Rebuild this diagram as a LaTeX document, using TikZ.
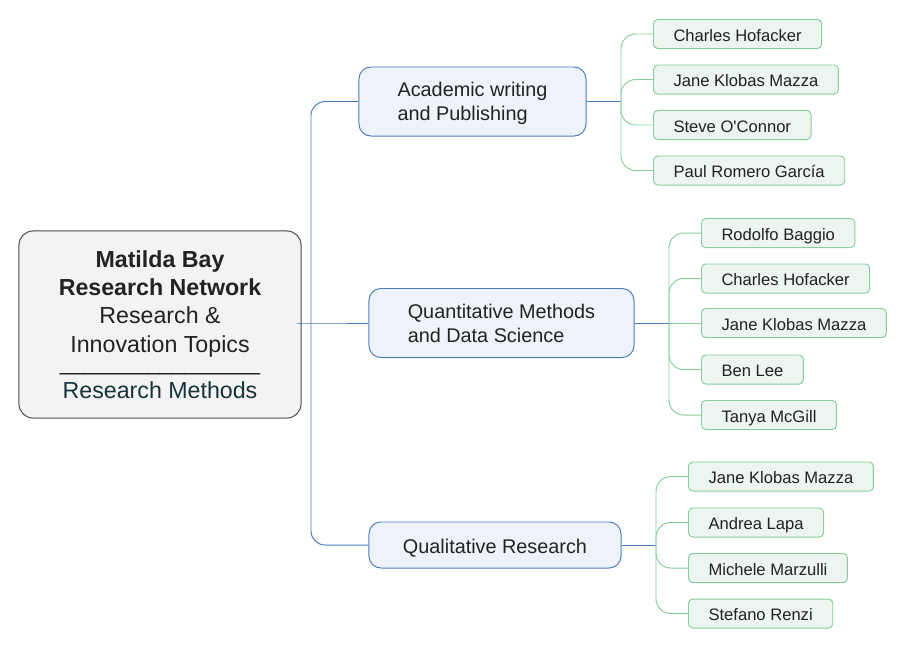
\documentclass[tikz,border=0pt]{standalone}
\usepackage{fontspec}
\setmainfont{Liberation Sans}
\definecolor{ink}{HTML}{222222}
\definecolor{slate}{HTML}{17333A}
\definecolor{rootfill}{HTML}{F3F3F3}
\definecolor{rootline}{HTML}{4A4A4A}
\definecolor{topicfill}{HTML}{EEF3FA}
\definecolor{topicline}{HTML}{4A7DC0}
\definecolor{leaffill}{HTML}{ECF5EF}
\definecolor{leafline}{HTML}{86CF9C}

\begin{document}
\begin{tikzpicture}[x=0.025cm, y=-0.025cm, text=ink,
    core/.style={draw=rootline, fill=rootfill, line width=0.7pt, rounded corners=10pt,
      align=center, minimum width=7.05cm, minimum height=4.675cm,
      font=\fontsize{16.5}{20.2}\selectfont},
    topic/.style={draw=topicline, fill=topicfill, line width=0.7pt, rounded corners=8.5pt,
      align=left, text depth=-1pt, font=\fontsize{14.1}{17}\selectfont},
    leaf/.style={draw=leafline, fill=leaffill, line width=0.7pt, rounded corners=3pt,
      anchor=west, inner xsep=0.5cm, inner ysep=0pt, minimum height=0.725cm,
      text height=1em, text depth=0pt, font=\fontsize{11.8}{14}\selectfont},
    toplink/.style={draw=topicline, line width=0.7pt, rounded corners=10pt},
    leaflink/.style={draw=leafline, line width=0.7pt, rounded corners=10.5pt}]

    \useasboundingbox (0,0) rectangle (908,647);

    % centre
    \node[core] (core) at (160,324.5) {\textbf{Matilda Bay}\\\textbf{Research Network}\\Research \&\\Innovation Topics\\[-7.5pt]%
      {\fontsize{16}{20.2}\selectfont\_\_\_\_\_\_\_\_\_\_\_\_\_\_\_\_}\\[0pt]{\color{slate}Research Methods}};

    % topics
    \node[topic, minimum width=5.675cm, minimum height=1.725cm] (acad)  at (472.5,101.5) {Academic writing\\and Publishing};
    \node[topic, minimum width=6.625cm, minimum height=1.725cm] (quant) at (501.5,323)   {Quantitative Methods\\and Data Science};
    \node[topic, minimum width=6.3cm,   minimum height=1.15cm, text height=11.7pt, text depth=0pt] (qual) at (495,545) {Qualitative Research};

    \coordinate (j0) at (311,323);
    \coordinate (ja) at (621,101.5);
    \coordinate (jq) at (669,323);
    \coordinate (jr) at (656,545);

    \draw[toplink] (core.east |- j0) -- (j0) -- (quant.west);
    \foreach \t in {acad,qual} \draw[toplink] (j0) |- (\t.west);

    % people
    \node[leaf] (a1) at (653,34)    {Charles Hofacker};
    \node[leaf] (a2) at (653,79.5)  {Jane Klobas Mazza};
    \node[leaf] (a3) at (653,125)   {Steve O\textquotesingle Connor};
    \node[leaf] (a4) at (653,170.5) {Paul Romero García};

    \node[leaf] (q1) at (701,233)   {Rodolfo Baggio};
    \node[leaf] (q2) at (701,278.5) {Charles Hofacker};
    \node[leaf] (q3) at (701,323)   {Jane Klobas Mazza};
    \node[leaf] (q4) at (701,369.5) {Ben Lee};
    \node[leaf] (q5) at (701,415)   {Tanya McGill};

    \node[leaf] (r1) at (688,476.5) {Jane Klobas Mazza};
    \node[leaf] (r2) at (688,522.5) {Andrea Lapa};
    \node[leaf] (r3) at (688,568)   {Michele Marzulli};
    \node[leaf] (r4) at (688,613.5) {Stefano Renzi};

    \draw[toplink] (acad.east) -- (ja);
    \draw[toplink] (quant.east) -- (jq);
    \draw[toplink] (qual.east) -- (jr);
    \foreach \l in {a1,a2,a3,a4} \draw[leaflink] (ja) |- (\l.west);
    \foreach \l in {q1,q2,q4,q5} \draw[leaflink] (jq) |- (\l.west);
    \draw[leaflink] (jq) -- (q3.west);
    \foreach \l in {r1,r2,r3,r4} \draw[leaflink] (jr) |- (\l.west);
  \end{tikzpicture}
\end{document}
